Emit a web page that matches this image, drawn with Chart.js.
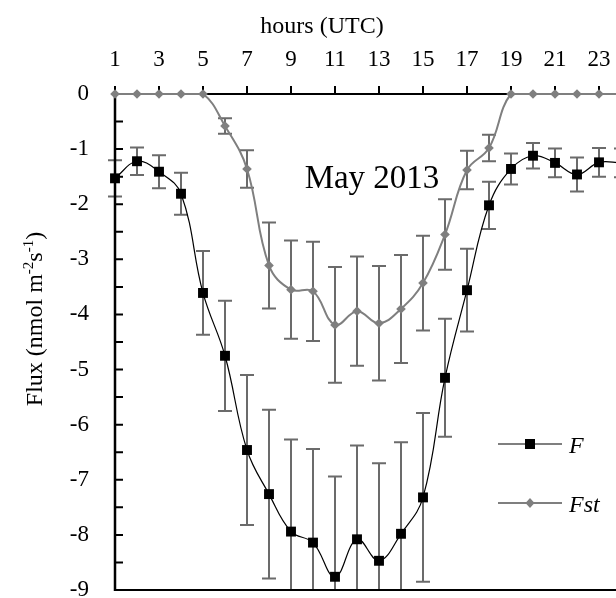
<!DOCTYPE html>
<html>
<head>
<meta charset="utf-8">
<script src="https://cdn.jsdelivr.net/npm/chart.js@4.4.0/dist/chart.umd.min.js"></script>
<style>
  html, body { margin: 0; padding: 0; overflow: hidden; background: #fff; }
</style>
</head>
<body>
<canvas id="chart" width="640" height="598"></canvas>
<script>
// hourly mean flux, May 2013
const hours = [1, 2, 3, 4, 5, 6, 7, 8, 9, 10, 11, 12, 13, 14, 15, 16, 17, 18, 19, 20, 21, 22, 23, 24];
const fluxF = [-1.53, -1.22, -1.41, -1.81, -3.61, -4.75, -6.46, -7.26, -7.94, -8.14, -8.76, -8.08,
               -8.47, -7.98, -7.32, -5.15, -3.56, -2.02, -1.36, -1.12, -1.25, -1.46, -1.24, -1.25];
const errF = [0.33, 0.25, 0.30, 0.38, 0.76, 1.00, 1.36, 1.53, 1.67, 1.70, 1.82, 1.70,
              1.77, 1.66, 1.53, 1.07, 0.75, 0.43, 0.28, 0.23, 0.26, 0.31, 0.26, 0.26];
const fluxFst = [0, 0, 0, 0, 0, -0.58, -1.36, -3.11, -3.55, -3.58, -4.19, -3.94,
                 -4.16, -3.90, -3.43, -2.55, -1.38, -0.98, 0, 0, 0, 0, 0, 0];
const errFst = [0, 0, 0, 0, 0, 0.14, 0.34, 0.78, 0.89, 0.90, 1.05, 0.99,
                1.04, 0.98, 0.86, 0.64, 0.35, 0.24, 0, 0, 0, 0, 0, 0];
const seriesNames = ["F", "Fst"];

const SERIF = "'Liberation Serif', 'Times New Roman', serif";
const GREY = "#7f7f7f";
const BAR_GREY = "#6b6b6b";

Chart.defaults.font.family = SERIF;
Chart.defaults.font.size = 23;
Chart.defaults.color = "#000";

const toPoints = (ys) => hours.map((h, i) => ({ x: h, y: ys[i] }));

// error bars, axes, titles and legend drawn by hand
const decor = {
  id: "decor",
  beforeDatasetsDraw(chart) {
    const { ctx, chartArea: a, scales: { x, y } } = chart;
    ctx.save();
    // error bars (clipped to plot area)
    ctx.beginPath();
    ctx.rect(a.left - 10, a.top - 10, chart.width, a.bottom - a.top + 10);
    ctx.clip();
    ctx.strokeStyle = BAR_GREY;
    ctx.lineWidth = 2;
    [[fluxF, errF], [fluxFst, errFst]].forEach(([vals, errs]) => {
      vals.forEach((v, i) => {
        if (!errs[i]) return;
        const px = x.getPixelForValue(hours[i]);
        const top = y.getPixelForValue(v + errs[i]);
        const bot = y.getPixelForValue(v - errs[i]);
        ctx.beginPath();
        ctx.moveTo(px, top); ctx.lineTo(px, bot);
        ctx.moveTo(px - 7, top); ctx.lineTo(px + 7, top);
        ctx.moveTo(px - 7, bot); ctx.lineTo(px + 7, bot);
        ctx.stroke();
      });
    });
    ctx.restore();

    // axes
    ctx.save();
    ctx.strokeStyle = "#000";
    ctx.lineWidth = 2;
    const y0 = y.getPixelForValue(0);
    const yb = y.getPixelForValue(-9);
    ctx.beginPath();
    ctx.moveTo(a.left, y0); ctx.lineTo(chart.width, y0);
    ctx.moveTo(a.left, yb); ctx.lineTo(chart.width, yb);
    ctx.stroke();
    ctx.lineWidth = 2.5;
    ctx.beginPath();
    ctx.moveTo(a.left, y0 - 1); ctx.lineTo(a.left, yb + 1);
    ctx.stroke();
    ctx.lineWidth = 2;
    ctx.beginPath();
    for (let v = 0; v >= -9; v -= 0.5) {
      const py = y.getPixelForValue(v);
      ctx.moveTo(a.left, py); ctx.lineTo(a.left + 8, py);
    }
    for (let h = 1; h <= 24; h += 2) {
      const px = x.getPixelForValue(h);
      ctx.moveTo(px, y0); ctx.lineTo(px, y0 - 8);
    }
    ctx.stroke();
    ctx.restore();
  },
  afterDraw(chart) {
    const { ctx } = chart;
    ctx.save();
    ctx.fillStyle = "#000";
    ctx.textBaseline = "alphabetic";

    // top axis title
    ctx.font = "24px " + SERIF;
    ctx.textAlign = "center";
    ctx.fillText("hours (UTC)", 322, 33);

    // panel label
    ctx.font = "33px " + SERIF;
    ctx.fillText("May 2013", 372, 188);

    // y axis title with superscripts
    const parts = [["Flux (nmol m", false], ["-2", true], ["s", false], ["-1", true], [")", false]];
    const big = "24px " + SERIF, small = "15px " + SERIF;
    let total = 0;
    parts.forEach(([t, sup]) => { ctx.font = sup ? small : big; total += ctx.measureText(t).width; });
    ctx.translate(42, 319);
    ctx.rotate(-Math.PI / 2);
    ctx.textAlign = "left";
    let cx = -total / 2;
    parts.forEach(([t, sup]) => {
      ctx.font = sup ? small : big;
      ctx.fillText(t, cx, sup ? -9 : 0);
      cx += ctx.measureText(t).width;
    });
    ctx.restore();

    // legend
    ctx.save();
    const rows = [
      { name: seriesNames[0], y: 444, color: "#000", width: 1.2, shape: "square" },
      { name: seriesNames[1], y: 503, color: GREY, width: 2, shape: "diamond" }
    ];
    rows.forEach((r) => {
      ctx.strokeStyle = r.color;
      ctx.lineWidth = r.width;
      ctx.beginPath();
      ctx.moveTo(498, r.y); ctx.lineTo(562, r.y);
      ctx.stroke();
      ctx.fillStyle = r.color;
      ctx.beginPath();
      if (r.shape === "square") {
        ctx.rect(525, r.y - 5, 10, 10);
      } else {
        ctx.moveTo(530, r.y - 5); ctx.lineTo(534.5, r.y);
        ctx.lineTo(530, r.y + 5); ctx.lineTo(525.5, r.y);
        ctx.closePath();
      }
      ctx.fill();
      ctx.fillStyle = "#000";
      ctx.font = "italic 24px " + SERIF;
      ctx.textAlign = "left";
      ctx.fillText(r.name, 569, r.y + 9);
    });
    ctx.restore();
  }
};

new Chart(document.getElementById("chart"), {
  type: "line",
  plugins: [decor],
  data: {
    datasets: [
      {
        label: seriesNames[0],
        data: toPoints(fluxF),
        borderColor: "#000",
        borderWidth: 1.2,
        backgroundColor: "#000",
        pointStyle: "rect",
        pointRadius: 7,
        pointBorderWidth: 0,
        tension: 0.4,
        clip: false,
        order: 0
      },
      {
        label: seriesNames[1],
        data: toPoints(fluxFst),
        borderColor: GREY,
        borderWidth: 2,
        backgroundColor: GREY,
        pointStyle: "rectRot",
        pointRadius: 4.8,
        pointBorderWidth: 0,
        tension: 0.4,
        clip: false,
        order: 1
      }
    ]
  },
  options: {
    responsive: false,
    animation: false,
    layout: { padding: { left: 0, top: 0, right: 19, bottom: 8 } },
    plugins: { legend: { display: false }, tooltip: { enabled: false } },
    scales: {
      x: {
        type: "linear",
        position: "top",
        min: 1,
        max: 24,
        grid: { display: false, drawTicks: false },
        border: { display: false },
        afterFit: (s) => { s.height = 94; s.paddingLeft = 0; s.paddingRight = 0; },
        ticks: {
          stepSize: 1,
          autoSkip: false,
          maxRotation: 0,
          padding: 20,
          callback: (v) => (v % 2 === 1 ? v : "")
        }
      },
      y: {
        min: -9,
        max: 0,
        grid: { display: false, drawTicks: false },
        border: { display: false },
        afterFit: (s) => { s.width = 115; s.paddingTop = 0; s.paddingBottom = 0; },
        ticks: {
          stepSize: 0.5,
          autoSkip: false,
          padding: 26,
          callback: (v) => (Number.isInteger(v) ? v : "")
        }
      }
    }
  }
});
</script>
</body>
</html>
